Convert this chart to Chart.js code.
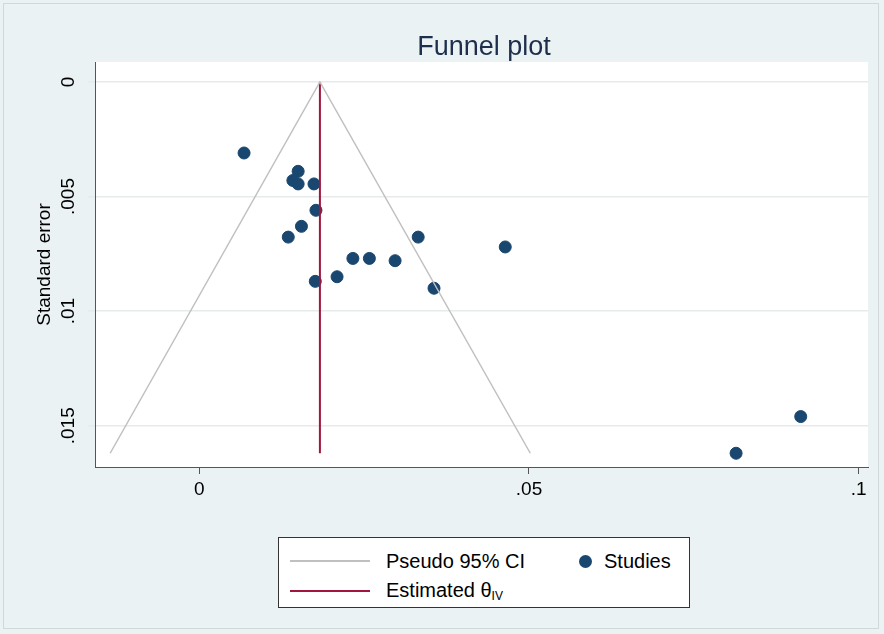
<!DOCTYPE html>
<html><head><meta charset="utf-8">
<script src="https://cdn.jsdelivr.net/npm/chart.js@4"></script>
<style>
body{margin:0;background:#EAF2F3;font-family:"Liberation Sans",Arial,sans-serif}
#wrap{position:absolute;left:0;top:0;width:884px;height:634px}
#frame{position:absolute;left:3px;top:3px;width:876px;height:626px;border:1px solid #d0d8da;box-sizing:border-box}
#legend{position:absolute;left:278px;top:537px;width:412px;height:71px;background:#fff;border:1px solid #333;box-sizing:border-box;font-size:20px;color:#000}
.row{position:absolute;display:flex;align-items:center;height:24px}
.ln{width:80px;height:2px;margin-right:16px}
.dot{width:13px;height:13px;border-radius:50%;background:#1A476F;margin-right:12px}
sub{font-size:12px;vertical-align:-3px}
</style></head>
<body><div id="wrap"><div id="frame"></div><canvas id="c" width="884" height="634"></canvas>
<div id="legend">
<div class="row" style="left:11px;top:11px"><div class="ln" style="background:#c0c0c0"></div>Pseudo 95% CI</div>
<div class="row" style="left:300px;top:11px"><div class="dot"></div>Studies</div>
<div class="row" style="left:11px;top:41px"><div class="ln" style="background:#A0163C"></div><span>Estimated θ<sub>IV</sub></span></div>
</div></div>
<script>
const studyEffect = [0.0068,0.0150,0.0142,0.0150,0.0174,0.0177,0.0155,0.0135,0.0332,0.0464,0.0233,0.0258,0.0297,0.0209,0.0176,0.0356,0.0912,0.0814];
const studySE = [0.0031,0.0039,0.0043,0.00445,0.00445,0.0056,0.0063,0.00677,0.00677,0.0072,0.0077,0.0077,0.0078,0.0085,0.0087,0.0090,0.0146,0.0162];
const funnelX = [-0.0135,0.0183,0.0502];
const funnelSE = [0.0162,0,0.0162];
const estimateX = [0.0183,0.0183];
const estimateSE = [0,0.0162];
const yTicks = [0,0.005,0.01,0.015];
const yTickLabels = ['0','.005','.01','.015'];
const xTicks = [0,0.05,0.1];
const xTickLabels = ['0','.05','.1'];

const pts = (xs, ys) => xs.map((x, i) => ({x: x, y: ys[i]}));

const deco = {
  id: 'deco',
  beforeDraw(ch) {
    const ctx = ch.ctx, a = ch.chartArea;
    ctx.save();
    ctx.fillStyle = '#fff';
    ctx.fillRect(a.left, a.top, a.right - a.left, a.bottom - a.top);
    ctx.restore();
  },
  afterDraw(ch) {
    const ctx = ch.ctx, y = ch.scales.y;
    ctx.save();
    ctx.fillStyle = '#1E2F4D';
    ctx.font = '27px "Liberation Sans", Arial';
    ctx.textAlign = 'center'; ctx.textBaseline = 'middle';
    ctx.fillText('Funnel plot', 484, 48);
    ctx.fillStyle = '#000';
    ctx.font = '19px "Liberation Sans", Arial';
    yTicks.forEach((v, i) => {
      ctx.save();
      ctx.translate(69, y.getPixelForValue(v));
      ctx.rotate(-Math.PI / 2);
      ctx.fillText(yTickLabels[i], 0, 0);
      ctx.restore();
    });
    ctx.translate(45, (ch.chartArea.top + ch.chartArea.bottom) / 2);
    ctx.rotate(-Math.PI / 2);
    ctx.fillText('Standard error', 0, 0);
    ctx.restore();
  }
};

new Chart(document.getElementById('c'), {
  type: 'scatter',
  data: {
    datasets: [
      {data: pts(funnelX, funnelSE), showLine: true, borderColor: '#c0c0c0', borderWidth: 1.5, pointRadius: 0},
      {data: pts(estimateX, estimateSE), showLine: true, borderColor: '#A0163C', borderWidth: 2, pointRadius: 0},
      {data: pts(studyEffect, studySE), backgroundColor: '#1A476F', borderColor: '#1A476F', pointRadius: 6}
    ]
  },
  options: {
    responsive: false, animation: false,
    layout: {padding: {left: 0, right: 16, top: 62, bottom: 127}},
    plugins: {legend: {display: false}, tooltip: {enabled: false}},
    scales: {
      x: {
        min: -0.0158, max: 0.1014,
        afterFit: s => { s.height = 40; },
        afterBuildTicks: s => { s.ticks = xTicks.map(v => ({value: v})); },
        ticks: {callback: (v) => xTickLabels[xTicks.indexOf(v)] ?? '', color: '#000', font: {size: 19, family: '"Liberation Sans", Arial'}, maxRotation: 0, padding: 4},
        grid: {drawOnChartArea: false, tickLength: 7, color: '#555'},
        border: {color: '#555'}
      },
      y: {
        reverse: true, min: -0.00087, max: 0.0168,
        afterFit: s => { s.width = 95; },
        afterBuildTicks: s => { s.ticks = yTicks.map(v => ({value: v})); },
        ticks: {display: false},
        grid: {color: '#e6eaeb', tickLength: 7, lineWidth: 1.5},
        border: {color: '#555'}
      }
    }
  },
  plugins: [deco]
});
</script></body></html>
